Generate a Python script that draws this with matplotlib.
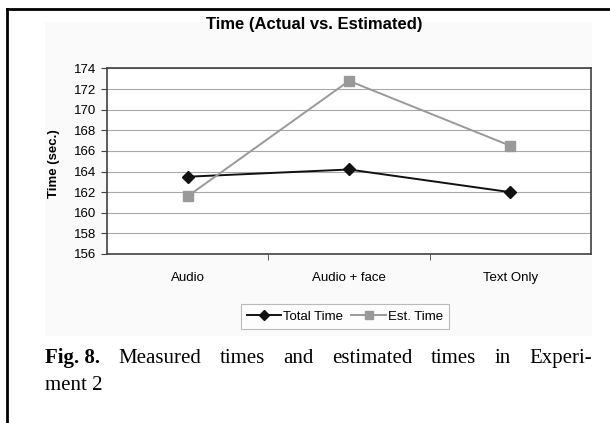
import matplotlib
matplotlib.use("Agg")
import matplotlib.pyplot as plt
from matplotlib.lines import Line2D
from matplotlib.patches import Rectangle
from matplotlib.ticker import FixedLocator

plt.rcParams["font.family"] = ["Liberation Sans", "DejaVu Sans"]

categories = ["Audio", "Audio + face", "Text Only"]
total_time = [163.5, 164.2, 162.0]
est_time = [161.6, 172.8, 166.5]
y_ticks = [156, 158, 160, 162, 164, 166, 168, 170, 172, 174]

W, H = 610, 423
fig = plt.figure(figsize=(W / 100, H / 100), dpi=100)

# faint chart-area background and the black page frame
fig.patches.append(Rectangle((45 / W, 1 - 336 / H), 547 / W, 314 / H,
                             transform=fig.transFigure, facecolor="#fafafa",
                             edgecolor="none", zorder=-5))
fig.add_artist(Line2D([7 / W, 7 / W], [0, 1 - 9 / H], color="black", lw=2.0))
fig.add_artist(Line2D([7 / W, 1], [1 - 9 / H, 1 - 9 / H], color="black", lw=2.0))

ax = fig.add_axes([107 / W, 1 - 254 / H, 484 / W, 185.5 / H])
ax.set_zorder(2)
ax.set_facecolor("white")
x = list(range(len(categories)))

ax.plot(x, total_time, color="#111111", lw=1.4, marker="D", markersize=6,
        label="Total Time", zorder=3)
ax.plot(x, est_time, color="#999999", lw=1.4, marker="s", markersize=6.5,
        label="Est. Time", zorder=3)

ax.set_xlim(-0.5, 2.5)
ax.set_ylim(156, 174)
ax.set_yticks(y_ticks)
ax.set_xticks(x)
ax.set_xticklabels(categories, fontsize=9.5)
ax.xaxis.set_minor_locator(FixedLocator([0.5, 1.5]))
ax.tick_params(axis="x", which="major", length=0, pad=13)
ax.tick_params(axis="x", which="minor", length=4, direction="out", color="#404040")
ax.tick_params(axis="y", length=4, direction="out", labelsize=9.5, pad=4, color="#404040")
ax.grid(axis="y", color="#a8a8a8", lw=0.8)
ax.set_axisbelow(True)
for s in ax.spines.values():
    s.set_color("#404040")
    s.set_linewidth(1.2)

fig.text(54 / W, 1 - 164 / H, "Time (sec.)", rotation=90, ha="center", va="center",
         fontsize=9.5, fontweight="bold", zorder=3)
fig.text(314 / W, 1 - 25 / H, "Time (Actual vs. Estimated)", ha="center", va="center",
         fontsize=12, fontweight="bold", zorder=3)

leg = fig.legend(loc="center", bbox_to_anchor=(345 / W, 1 - 316.5 / H), ncol=2,
                 fontsize=9.5, frameon=True, fancybox=False, handlelength=2.6,
                 markerscale=0.8, handletextpad=0.2, columnspacing=0.6, borderpad=0.45)
leg.get_frame().set_edgecolor("#aaaaaa")
leg.get_frame().set_linewidth(0.8)
leg.set_zorder(3)

# justified caption, first line spread between x=45 and x=592
serif = ["Liberation Serif", "DejaVu Serif"]
words = ["Measured", "times", "and", "estimated", "times", "in", "Experi-"]
fig.canvas.draw()
r = fig.canvas.get_renderer()
y1 = 1 - 363 / H
head = fig.text(45 / W, y1, "Fig. 8.", family=serif, fontsize=15, fontweight="bold",
                va="baseline")
objs = [head] + [fig.text(0, y1, w, family=serif, fontsize=15, va="baseline") for w in words]
widths = [o.get_window_extent(r).width for o in objs]
gap = (592 - 45 - sum(widths)) / (len(objs) - 1)
pos = 45
for o, w in zip(objs, widths):
    o.set_x(pos / W)
    pos += w + gap
fig.text(45 / W, 1 - 390 / H, "ment 2", family=serif, fontsize=15, va="baseline")

fig.savefig("out.png", dpi=100)
